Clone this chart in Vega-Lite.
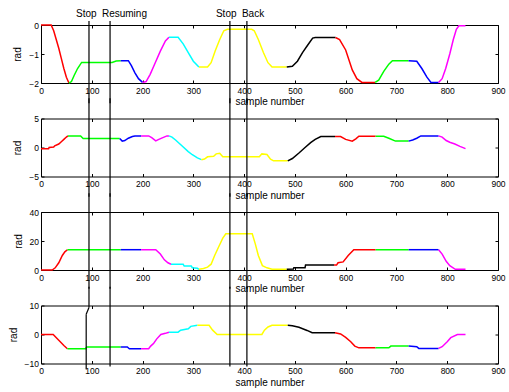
{
  "$schema": "https://vega.github.io/schema/vega-lite/v6.json",
  "padding": {"left": 7, "top": 8, "right": 2, "bottom": 2},
  "bounds": "flush",
  "spacing": 35.5,
  "config": {
    "font": "Liberation Sans",
    "view": {"stroke": "#000", "strokeWidth": 1},
    "axis": {"grid": false, "domain": false, "tickColor": "#000", "tickSize": -3, "labelFontSize": 8.5, "labelColor": "#000", "titleFontSize": 10, "titleFontWeight": "normal", "titleColor": "#000", "labelFlush": false, "labelOverlap": false, "format": "d"},
    "axisX": {"labelPadding": 6, "titlePadding": 2},
    "axisY": {"labelPadding": 5.5, "titlePadding": 6},
    "text": {"fontSize": 10, "color": "#000"},
    "rule": {"strokeWidth": 1.2, "color": "#000"}
  },
  "datasets": {
    "p1": [
      {"seg":"a1","t":0,"v":0},{"seg":"a1","t":20,"v":0},{"seg":"a1","t":25,"v":-0.2},{"seg":"a1","t":30,"v":-0.5},{"seg":"a1","t":35,"v":-0.8},{"seg":"a1","t":40,"v":-1.15},{"seg":"a1","t":45,"v":-1.5},{"seg":"a1","t":50,"v":-1.8},{"seg":"a1","t":55,"v":-2.0},
      {"seg":"a2","t":55,"v":-2.0},{"seg":"a2","t":60,"v":-1.95},{"seg":"a2","t":65,"v":-1.75},{"seg":"a2","t":72,"v":-1.5},{"seg":"a2","t":80,"v":-1.29},{"seg":"a2","t":140,"v":-1.29},{"seg":"a2","t":148,"v":-1.24},{"seg":"a2","t":157,"v":-1.23},
      {"seg":"a3","t":157,"v":-1.23},{"seg":"a3","t":172,"v":-1.23},{"seg":"a3","t":178,"v":-1.4},{"seg":"a3","t":185,"v":-1.65},{"seg":"a3","t":192,"v":-1.85},{"seg":"a3","t":200,"v":-1.98},
      {"seg":"a4","t":200,"v":-1.98},{"seg":"a4","t":207,"v":-1.95},{"seg":"a4","t":215,"v":-1.7},{"seg":"a4","t":225,"v":-1.3},{"seg":"a4","t":235,"v":-0.9},{"seg":"a4","t":245,"v":-0.55},{"seg":"a4","t":252,"v":-0.42},
      {"seg":"a5","t":252,"v":-0.42},{"seg":"a5","t":270,"v":-0.42},{"seg":"a5","t":280,"v":-0.65},{"seg":"a5","t":290,"v":-0.95},{"seg":"a5","t":300,"v":-1.25},{"seg":"a5","t":311,"v":-1.45},
      {"seg":"a6","t":311,"v":-1.45},{"seg":"a6","t":328,"v":-1.45},{"seg":"a6","t":335,"v":-1.3},{"seg":"a6","t":343,"v":-0.9},{"seg":"a6","t":352,"v":-0.5},{"seg":"a6","t":360,"v":-0.2},{"seg":"a6","t":367,"v":-0.15},{"seg":"a6","t":415,"v":-0.15},{"seg":"a6","t":420,"v":-0.2},{"seg":"a6","t":428,"v":-0.5},{"seg":"a6","t":438,"v":-0.95},{"seg":"a6","t":447,"v":-1.3},{"seg":"a6","t":455,"v":-1.45},{"seg":"a6","t":484,"v":-1.45},
      {"seg":"a7","t":484,"v":-1.45},{"seg":"a7","t":495,"v":-1.42},{"seg":"a7","t":505,"v":-1.25},{"seg":"a7","t":515,"v":-0.95},{"seg":"a7","t":525,"v":-0.7},{"seg":"a7","t":535,"v":-0.45},{"seg":"a7","t":540,"v":-0.43},{"seg":"a7","t":580,"v":-0.43},
      {"seg":"a8","t":580,"v":-0.43},{"seg":"a8","t":588,"v":-0.5},{"seg":"a8","t":600,"v":-0.86},{"seg":"a8","t":613,"v":-1.55},{"seg":"a8","t":622,"v":-1.85},{"seg":"a8","t":632,"v":-1.98},{"seg":"a8","t":658,"v":-1.98},
      {"seg":"a9","t":658,"v":-1.98},{"seg":"a9","t":665,"v":-1.9},{"seg":"a9","t":675,"v":-1.6},{"seg":"a9","t":685,"v":-1.35},{"seg":"a9","t":692,"v":-1.23},{"seg":"a9","t":724,"v":-1.23},
      {"seg":"a10","t":724,"v":-1.23},{"seg":"a10","t":740,"v":-1.25},{"seg":"a10","t":750,"v":-1.5},{"seg":"a10","t":760,"v":-1.8},{"seg":"a10","t":768,"v":-1.98},{"seg":"a10","t":783,"v":-1.98},
      {"seg":"a11","t":783,"v":-1.98},{"seg":"a11","t":790,"v":-1.85},{"seg":"a11","t":797,"v":-1.5},{"seg":"a11","t":805,"v":-1.0},{"seg":"a11","t":812,"v":-0.5},{"seg":"a11","t":818,"v":-0.15},{"seg":"a11","t":823,"v":-0.03},{"seg":"a11","t":836,"v":-0.03}
    ],
    "p2": [
      {"seg":"a1","t":0,"v":-0.2},{"seg":"a1","t":15,"v":-0.2},{"seg":"a1","t":16,"v":0},{"seg":"a1","t":25,"v":0.1},{"seg":"a1","t":27,"v":0.3},{"seg":"a1","t":35,"v":0.6},{"seg":"a1","t":40,"v":1.0},{"seg":"a1","t":45,"v":1.4},{"seg":"a1","t":50,"v":1.8},{"seg":"a1","t":53,"v":2.0},
      {"seg":"a2","t":53,"v":2.0},{"seg":"a2","t":78,"v":2.0},{"seg":"a2","t":83,"v":1.55},{"seg":"a2","t":155,"v":1.55},
      {"seg":"a3","t":155,"v":1.55},{"seg":"a3","t":160,"v":1.1},{"seg":"a3","t":165,"v":1.2},{"seg":"a3","t":172,"v":1.6},{"seg":"a3","t":180,"v":1.9},{"seg":"a3","t":185,"v":2.0},{"seg":"a3","t":197,"v":2.0},
      {"seg":"a4","t":197,"v":2.0},{"seg":"a4","t":212,"v":2.0},{"seg":"a4","t":218,"v":1.7},{"seg":"a4","t":226,"v":1.15},{"seg":"a4","t":232,"v":1.4},{"seg":"a4","t":240,"v":1.7},{"seg":"a4","t":248,"v":2.0},{"seg":"a4","t":252,"v":2.0},
      {"seg":"a5","t":252,"v":2.0},{"seg":"a5","t":258,"v":1.8},{"seg":"a5","t":265,"v":1.3},{"seg":"a5","t":278,"v":0.25},{"seg":"a5","t":290,"v":-0.7},{"seg":"a5","t":298,"v":-1.25},{"seg":"a5","t":308,"v":-1.8},{"seg":"a5","t":316,"v":-2.1},
      {"seg":"a6","t":316,"v":-2.1},{"seg":"a6","t":322,"v":-2.0},{"seg":"a6","t":328,"v":-1.6},{"seg":"a6","t":340,"v":-1.5},{"seg":"a6","t":345,"v":-1.1},{"seg":"a6","t":352,"v":-1.0},{"seg":"a6","t":358,"v":-1.6},{"seg":"a6","t":430,"v":-1.6},{"seg":"a6","t":435,"v":-1.1},{"seg":"a6","t":445,"v":-1.2},{"seg":"a6","t":452,"v":-2.0},{"seg":"a6","t":458,"v":-2.3},{"seg":"a6","t":486,"v":-2.3},
      {"seg":"a7","t":486,"v":-2.3},{"seg":"a7","t":495,"v":-1.9},{"seg":"a7","t":508,"v":-0.95},{"seg":"a7","t":520,"v":0},{"seg":"a7","t":531,"v":0.85},{"seg":"a7","t":540,"v":1.4},{"seg":"a7","t":551,"v":1.9},{"seg":"a7","t":579,"v":1.9},
      {"seg":"a8","t":579,"v":1.9},{"seg":"a8","t":590,"v":1.9},{"seg":"a8","t":600,"v":1.4},{"seg":"a8","t":613,"v":1.1},{"seg":"a8","t":620,"v":1.5},{"seg":"a8","t":626,"v":1.95},{"seg":"a8","t":659,"v":1.95},
      {"seg":"a9","t":659,"v":1.95},{"seg":"a9","t":675,"v":1.95},{"seg":"a9","t":685,"v":1.6},{"seg":"a9","t":698,"v":1.1},{"seg":"a9","t":724,"v":1.1},
      {"seg":"a10","t":724,"v":1.1},{"seg":"a10","t":732,"v":1.3},{"seg":"a10","t":740,"v":1.6},{"seg":"a10","t":748,"v":2.0},{"seg":"a10","t":783,"v":2.0},
      {"seg":"a11","t":783,"v":2.0},{"seg":"a11","t":790,"v":1.8},{"seg":"a11","t":798,"v":1.2},{"seg":"a11","t":805,"v":0.9},{"seg":"a11","t":815,"v":0.6},{"seg":"a11","t":825,"v":0.2},{"seg":"a11","t":836,"v":-0.2}
    ],
    "p3": [
      {"seg":"a1","t":0,"v":0},{"seg":"a1","t":22,"v":0},{"seg":"a1","t":28,"v":1.5},{"seg":"a1","t":35,"v":5},{"seg":"a1","t":42,"v":10},{"seg":"a1","t":47,"v":12.5},{"seg":"a1","t":52,"v":14},
      {"seg":"a2","t":52,"v":14},{"seg":"a2","t":157,"v":14},
      {"seg":"a3","t":157,"v":14},{"seg":"a3","t":197,"v":14},
      {"seg":"a4","t":197,"v":14},{"seg":"a4","t":226,"v":14},{"seg":"a4","t":235,"v":11},{"seg":"a4","t":243,"v":7},{"seg":"a4","t":250,"v":5},{"seg":"a4","t":256,"v":4},
      {"seg":"a5","t":256,"v":4},{"seg":"a5","t":280,"v":3.9},{"seg":"a5","t":282,"v":2.7},{"seg":"a5","t":296,"v":2.7},{"seg":"a5","t":298,"v":1.6},{"seg":"a5","t":308,"v":1.2},{"seg":"a5","t":311,"v":0.5},
      {"seg":"a6","t":311,"v":0.5},{"seg":"a6","t":320,"v":1.0},{"seg":"a6","t":328,"v":2.0},{"seg":"a6","t":335,"v":4},{"seg":"a6","t":342,"v":10},{"seg":"a6","t":350,"v":16},{"seg":"a6","t":358,"v":22},{"seg":"a6","t":364,"v":25},{"seg":"a6","t":416,"v":25},{"seg":"a6","t":422,"v":18},{"seg":"a6","t":428,"v":10},{"seg":"a6","t":436,"v":3},{"seg":"a6","t":445,"v":1.5},{"seg":"a6","t":455,"v":0.5},{"seg":"a6","t":484,"v":0.5},
      {"seg":"a7","t":484,"v":0.5},{"seg":"a7","t":497,"v":0.7},{"seg":"a7","t":498,"v":1.6},{"seg":"a7","t":520,"v":1.6},{"seg":"a7","t":521,"v":3.4},{"seg":"a7","t":577,"v":3.4},
      {"seg":"a8","t":577,"v":3.4},{"seg":"a8","t":582,"v":3.4},{"seg":"a8","t":585,"v":5},{"seg":"a8","t":595,"v":5.6},{"seg":"a8","t":605,"v":10},{"seg":"a8","t":616,"v":14},{"seg":"a8","t":659,"v":14},
      {"seg":"a9","t":659,"v":14},{"seg":"a9","t":724,"v":14},
      {"seg":"a10","t":724,"v":14},{"seg":"a10","t":783,"v":14},
      {"seg":"a11","t":783,"v":14},{"seg":"a11","t":790,"v":11},{"seg":"a11","t":798,"v":6},{"seg":"a11","t":805,"v":3},{"seg":"a11","t":816,"v":0.5},{"seg":"a11","t":836,"v":0.5}
    ],
    "p4": [
      {"seg":"a1","t":0,"v":0},{"seg":"a1","t":24,"v":0},{"seg":"a1","t":35,"v":-2},{"seg":"a1","t":45,"v":-3.8},{"seg":"a1","t":52,"v":-4.9},
      {"seg":"a2","t":52,"v":-4.9},{"seg":"a2","t":88,"v":-4.9},{"seg":"a2","t":90,"v":-4.3},{"seg":"a2","t":157,"v":-4.3},
      {"seg":"a3","t":157,"v":-4.3},{"seg":"a3","t":170,"v":-4.3},{"seg":"a3","t":174,"v":-4.9},{"seg":"a3","t":197,"v":-4.9},
      {"seg":"a4","t":197,"v":-4.9},{"seg":"a4","t":212,"v":-4.9},{"seg":"a4","t":216,"v":-4.0},{"seg":"a4","t":222,"v":-3.0},{"seg":"a4","t":228,"v":-1.5},{"seg":"a4","t":236,"v":0},{"seg":"a4","t":245,"v":0.4},{"seg":"a4","t":252,"v":0.8},
      {"seg":"a5","t":252,"v":0.8},{"seg":"a5","t":270,"v":0.8},{"seg":"a5","t":275,"v":1.5},{"seg":"a5","t":290,"v":2},{"seg":"a5","t":295,"v":2.8},{"seg":"a5","t":308,"v":3.2},
      {"seg":"a6","t":308,"v":3.2},{"seg":"a6","t":331,"v":3.2},{"seg":"a6","t":338,"v":1.5},{"seg":"a6","t":347,"v":0},{"seg":"a6","t":435,"v":0},{"seg":"a6","t":440,"v":1.5},{"seg":"a6","t":447,"v":2.6},{"seg":"a6","t":455,"v":3.2},{"seg":"a6","t":486,"v":3.2},
      {"seg":"a7","t":486,"v":3.2},{"seg":"a7","t":495,"v":3.0},{"seg":"a7","t":508,"v":2.5},{"seg":"a7","t":524,"v":1.4},{"seg":"a7","t":534,"v":0.6},{"seg":"a7","t":579,"v":0.6},
      {"seg":"a8","t":579,"v":0.6},{"seg":"a8","t":590,"v":0.2},{"seg":"a8","t":600,"v":-1.0},{"seg":"a8","t":610,"v":-2.5},{"seg":"a8","t":618,"v":-4.0},{"seg":"a8","t":626,"v":-4.6},{"seg":"a8","t":659,"v":-4.6},
      {"seg":"a9","t":659,"v":-4.6},{"seg":"a9","t":685,"v":-4.6},{"seg":"a9","t":689,"v":-4.0},{"seg":"a9","t":724,"v":-4.0},
      {"seg":"a10","t":724,"v":-4.0},{"seg":"a10","t":740,"v":-4.2},{"seg":"a10","t":744,"v":-4.8},{"seg":"a10","t":783,"v":-4.8},
      {"seg":"a11","t":783,"v":-4.8},{"seg":"a11","t":790,"v":-4.2},{"seg":"a11","t":800,"v":-2.5},{"seg":"a11","t":807,"v":-1.1},{"seg":"a11","t":820,"v":0},{"seg":"a11","t":836,"v":0}
    ],
    "r1": [{"s":94.5,"s2":94.5,"v":0.14,"v2":-2.7},{"s":136,"s2":136,"v":0.14,"v2":-2.7},{"s":372,"s2":372,"v":0.14,"v2":-2.7},{"s":405.5,"s2":405.5,"v":0.14,"v2":-2.7}],
    "r2": [{"s":94.5,"s2":94.5,"v":8.5,"v2":-8.5},{"s":136,"s2":136,"v":8.5,"v2":-8.5},{"s":372,"s2":372,"v":8.5,"v2":-8.5},{"s":405.5,"s2":405.5,"v":8.5,"v2":-8.5}],
    "r3": [{"s":94.5,"s2":94.5,"v":53,"v2":-13},{"s":136,"s2":136,"v":53,"v2":-13},{"s":372,"s2":372,"v":53,"v2":-13},{"s":405.5,"s2":405.5,"v":53,"v2":-13}],
    "r4": [{"s":94.5,"s2":94.5,"v":16.5,"v2":9.3},{"s":94.5,"s2":89,"v":9.3,"v2":7},{"s":89,"s2":89,"v":7,"v2":-12},{"s":136,"s2":136,"v":16.5,"v2":-11},{"s":372,"s2":372,"v":16.5,"v2":-11},{"s":405.5,"s2":405.5,"v":16.5,"v2":-11}],
    "lab": [{"label":"Stop","s":69,"v":0.38},{"label":"Resuming","s":120,"v":0.38},{"label":"Stop","s":344.5,"v":0.38},{"label":"Back","s":395.7,"v":0.38}]
  },
  "vconcat": [
    {
      "width": 457, "height": 58,
      "layer": [
        {"data": {"name": "p1"}, "mark": {"type": "line", "strokeWidth": 1.5},
         "encoding": {
           "x": {"field": "t", "type": "quantitative", "scale": {"domain": [0, 900], "nice": false, "zero": false}, "axis": {"values": [0,100,200,300,400,500,600,700,800,900], "title": "sample number"}},
           "y": {"field": "v", "type": "quantitative", "scale": {"domain": [-2, 0], "nice": false, "zero": false}, "axis": {"values": [-2,-1,0], "title": "rad"}},
           "color": {"field": "seg", "type": "nominal", "scale": {"domain": ["a1","a2","a3","a4","a5","a6","a7","a8","a9","a10","a11"], "range": ["#ff0000","#00ff00","#0000ff","#ff00ff","#00ffff","#ffff00","#000000","#ff0000","#00ff00","#0000ff","#ff00ff"]}, "legend": null}
         }},
        {"data": {"name": "r1"}, "mark": "rule",
         "encoding": {
           "x": {"field": "s", "type": "quantitative", "scale": {"domain": [0, 900], "nice": false, "zero": false}, "axis": {"orient": "top", "labels": false, "title": null, "values": [0,100,200,300,400,500,600,700,800,900]}},
           "x2": {"field": "s2"},
           "y": {"field": "v", "type": "quantitative", "scale": {"domain": [-2, 0], "nice": false, "zero": false}, "axis": {"orient": "right", "labels": false, "title": null, "values": [-2,-1,0]}},
           "y2": {"field": "v2"}
         }},
        {"data": {"name": "lab"}, "mark": {"type": "text", "align": "left", "baseline": "middle"},
         "encoding": {
           "x": {"field": "s", "type": "quantitative", "axis": null},
           "y": {"field": "v", "type": "quantitative", "axis": null},
           "text": {"field": "label"}
         }}
      ],
      "resolve": {"axis": {"x": "independent", "y": "independent"}}
    },
    {
      "width": 457, "height": 58,
      "layer": [
        {"data": {"name": "p2"}, "mark": {"type": "line", "strokeWidth": 1.5},
         "encoding": {
           "x": {"field": "t", "type": "quantitative", "scale": {"domain": [0, 900], "nice": false, "zero": false}, "axis": {"values": [0,100,200,300,400,500,600,700,800,900], "title": "sample number"}},
           "y": {"field": "v", "type": "quantitative", "scale": {"domain": [-5, 5], "nice": false, "zero": false}, "axis": {"values": [-5,0,5], "title": "rad"}},
           "color": {"field": "seg", "type": "nominal", "scale": {"domain": ["a1","a2","a3","a4","a5","a6","a7","a8","a9","a10","a11"], "range": ["#ff0000","#00ff00","#0000ff","#ff00ff","#00ffff","#ffff00","#000000","#ff0000","#00ff00","#0000ff","#ff00ff"]}, "legend": null}
         }},
        {"data": {"name": "r2"}, "mark": "rule",
         "encoding": {
           "x": {"field": "s", "type": "quantitative", "scale": {"domain": [0, 900], "nice": false, "zero": false}, "axis": {"orient": "top", "labels": false, "title": null, "values": [0,100,200,300,400,500,600,700,800,900]}},
           "x2": {"field": "s2"},
           "y": {"field": "v", "type": "quantitative", "scale": {"domain": [-5, 5], "nice": false, "zero": false}, "axis": {"orient": "right", "labels": false, "title": null, "values": [-5,0,5]}},
           "y2": {"field": "v2"}
         }}
      ],
      "resolve": {"axis": {"x": "independent", "y": "independent"}}
    },
    {
      "width": 457, "height": 58,
      "layer": [
        {"data": {"name": "p3"}, "mark": {"type": "line", "strokeWidth": 1.5},
         "encoding": {
           "x": {"field": "t", "type": "quantitative", "scale": {"domain": [0, 900], "nice": false, "zero": false}, "axis": {"values": [0,100,200,300,400,500,600,700,800,900], "title": "sample number"}},
           "y": {"field": "v", "type": "quantitative", "scale": {"domain": [0, 40], "nice": false, "zero": false}, "axis": {"values": [0,20,40], "title": "rad"}},
           "color": {"field": "seg", "type": "nominal", "scale": {"domain": ["a1","a2","a3","a4","a5","a6","a7","a8","a9","a10","a11"], "range": ["#ff0000","#00ff00","#0000ff","#ff00ff","#00ffff","#ffff00","#000000","#ff0000","#00ff00","#0000ff","#ff00ff"]}, "legend": null}
         }},
        {"data": {"name": "r3"}, "mark": "rule",
         "encoding": {
           "x": {"field": "s", "type": "quantitative", "scale": {"domain": [0, 900], "nice": false, "zero": false}, "axis": {"orient": "top", "labels": false, "title": null, "values": [0,100,200,300,400,500,600,700,800,900]}},
           "x2": {"field": "s2"},
           "y": {"field": "v", "type": "quantitative", "scale": {"domain": [0, 40], "nice": false, "zero": false}, "axis": {"orient": "right", "labels": false, "title": null, "values": [0,20,40]}},
           "y2": {"field": "v2"}
         }}
      ],
      "resolve": {"axis": {"x": "independent", "y": "independent"}}
    },
    {
      "width": 457, "height": 58,
      "layer": [
        {"data": {"name": "p4"}, "mark": {"type": "line", "strokeWidth": 1.5},
         "encoding": {
           "x": {"field": "t", "type": "quantitative", "scale": {"domain": [0, 900], "nice": false, "zero": false}, "axis": {"values": [0,100,200,300,400,500,600,700,800,900], "title": "sample number"}},
           "y": {"field": "v", "type": "quantitative", "scale": {"domain": [-10, 10], "nice": false, "zero": false}, "axis": {"values": [-10,0,10], "title": "rad"}},
           "color": {"field": "seg", "type": "nominal", "scale": {"domain": ["a1","a2","a3","a4","a5","a6","a7","a8","a9","a10","a11"], "range": ["#ff0000","#00ff00","#0000ff","#ff00ff","#00ffff","#ffff00","#000000","#ff0000","#00ff00","#0000ff","#ff00ff"]}, "legend": null}
         }},
        {"data": {"name": "r4"}, "mark": "rule",
         "encoding": {
           "x": {"field": "s", "type": "quantitative", "scale": {"domain": [0, 900], "nice": false, "zero": false}, "axis": {"orient": "top", "labels": false, "title": null, "values": [0,100,200,300,400,500,600,700,800,900]}},
           "x2": {"field": "s2"},
           "y": {"field": "v", "type": "quantitative", "scale": {"domain": [-10, 10], "nice": false, "zero": false}, "axis": {"orient": "right", "labels": false, "title": null, "values": [-10,0,10]}},
           "y2": {"field": "v2"}
         }}
      ],
      "resolve": {"axis": {"x": "independent", "y": "independent"}}
    }
  ]
}
